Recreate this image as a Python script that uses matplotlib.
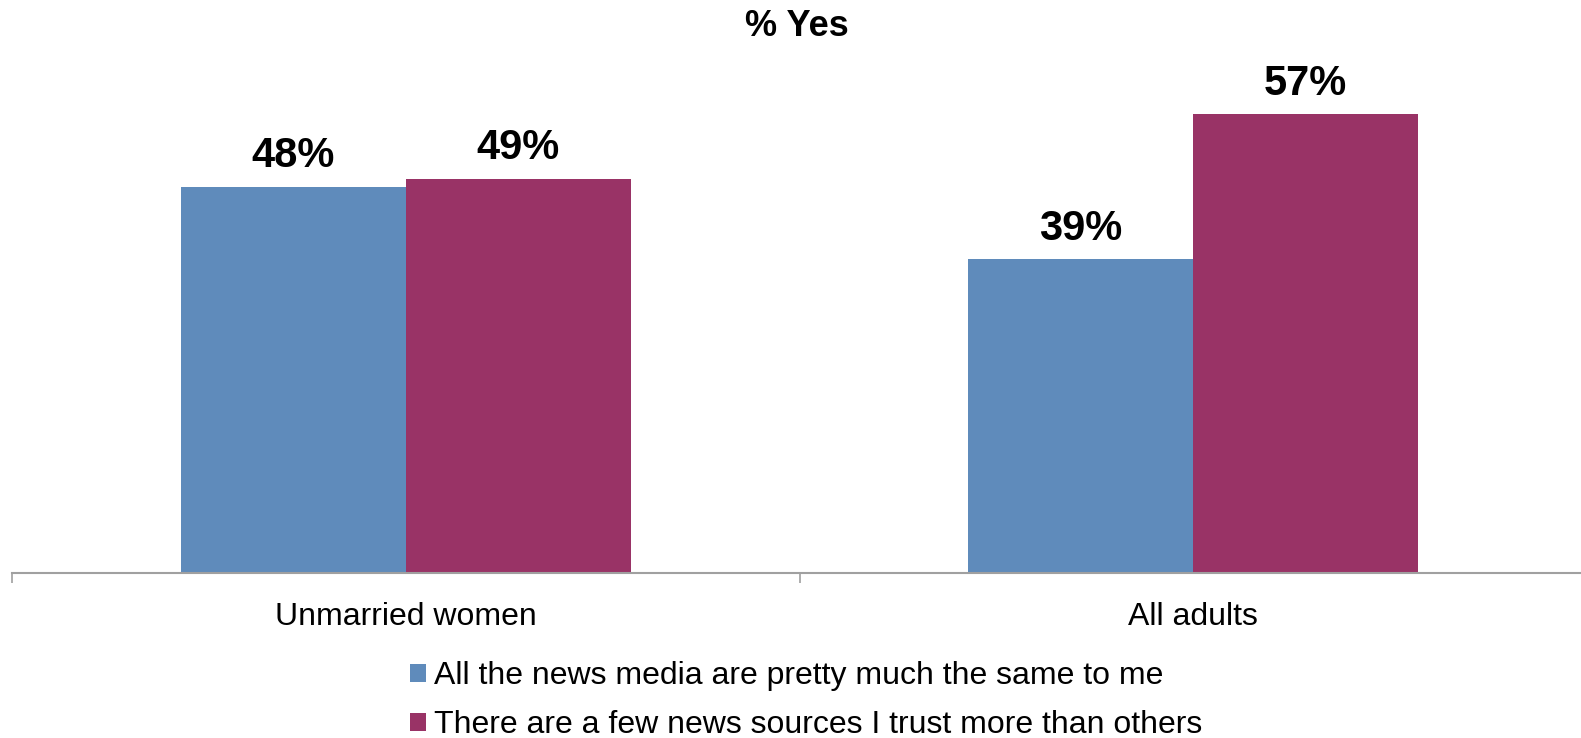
import matplotlib

matplotlib.use("Agg")
import matplotlib.pyplot as plt
import numpy as np

plt.rcParams["font.family"] = ["Liberation Sans", "DejaVu Sans"]

# Data
categories = ["Unmarried women", "All adults"]
series_names = [
    "All the news media are pretty much the same to me",
    "There are a few news sources I trust more than others",
]
same_to_me = [48, 39]
trust_some = [49, 57]
colors = ["#5F8BBB", "#993366"]

W, H = 1581, 738
fig = plt.figure(figsize=(W / 100, H / 100), dpi=100)

# Axes placed so the baseline sits at y=573 px and each category spans ~787 px
base_px = 573
left_px = 12
cat_px = 787.5
ax = fig.add_axes([left_px / W, (H - base_px) / H, 2 * cat_px / W, base_px / H])

x = np.arange(len(categories))
bar_w = 0.2855
values = [same_to_me, trust_some]
offsets = [-bar_w / 2, bar_w / 2]

for vals, off, col, name in zip(values, offsets, colors, series_names):
    bars = ax.bar(x + off, vals, width=bar_w, color=col, label=name, linewidth=0)
    for rect, v in zip(bars, vals):
        ax.annotate(
            f"{v}%",
            (rect.get_x() + rect.get_width() / 2, rect.get_height()),
            xytext=(0, 14),
            textcoords="offset points",
            ha="center",
            va="baseline",
            fontsize=30,
            fontweight="bold",
        )

ax.set_xlim(-0.5, 1.5)
ax.set_ylim(0, base_px / 8.05)

for side in ["left", "right", "top"]:
    ax.spines[side].set_visible(False)
ax.spines["bottom"].set_color("#A0A0A0")
ax.spines["bottom"].set_linewidth(1.5)

ax.set_yticks([])
ax.set_xticks([-0.5, 0.5, 1.5])
ax.set_xticklabels([])
ax.tick_params(axis="x", which="major", length=7, width=1.2, color="#A0A0A0")
ax.set_xticks(x, minor=True)
ax.set_xticklabels(categories, minor=True, fontsize=23)
ax.tick_params(axis="x", which="minor", length=0, pad=21)

fig.text(797 / W, 1 - 27 / H, "% Yes", ha="center", va="center",
         fontsize=26, fontweight="bold")

handles, labels = ax.get_legend_handles_labels()
fig.legend(
    handles,
    labels,
    loc="upper left",
    bbox_to_anchor=(410 / W, 1 - 661 / H),
    frameon=False,
    fontsize=23,
    handlelength=0.5,
    handleheight=0.5,
    handletextpad=0.25,
    labelspacing=0.6,
    borderaxespad=0,
    borderpad=0,
)

fig.savefig("out.png", dpi=100)
